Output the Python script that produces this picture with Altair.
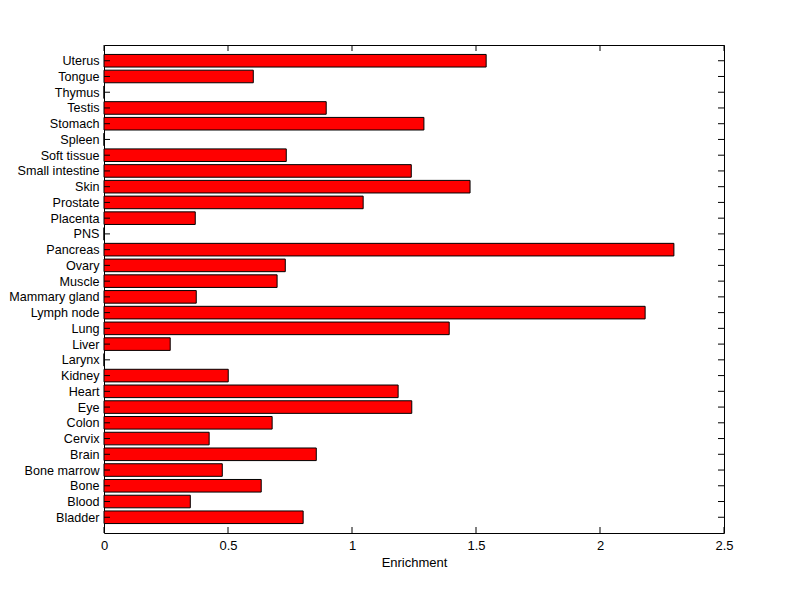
import altair as alt
import pandas as pd

tissues = ["Bladder", "Blood", "Bone", "Bone marrow", "Brain", "Cervix", "Colon", "Eye",
           "Heart", "Kidney", "Larynx", "Liver", "Lung", "Lymph node", "Mammary gland",
           "Muscle", "Ovary", "Pancreas", "PNS", "Placenta", "Prostate", "Skin",
           "Small intestine", "Soft tissue", "Spleen", "Stomach", "Testis", "Thymus",
           "Tongue", "Uterus"]
enrichment = [0.803, 0.348, 0.634, 0.477, 0.856, 0.424, 0.678, 1.241,
              1.186, 0.501, 0.0, 0.267, 1.392, 2.182, 0.372,
              0.698, 0.731, 2.298, 0.0, 0.368, 1.045, 1.476,
              1.239, 0.735, 0.0, 1.290, 0.896, 0.0,
              0.602, 1.541]
x_ticks = [0, 0.5, 1, 1.5, 2, 2.5]

W, H = 620, 488
FONT = "Liberation Sans"

df = pd.DataFrame({"tissue": tissues, "value": enrichment})
df["pos"] = range(1, len(tissues) + 1)
ticks_x = pd.DataFrame({"t": x_ticks})
ticks_y = pd.DataFrame({"pos": list(range(1, len(tissues) + 1))})

label_expr = "[" + ",".join("'" + t + "'" for t in tissues) + "][datum.value - 1]"

xscale = alt.Scale(domain=[0, 2.5], nice=False, zero=True)
yscale = alt.Scale(domain=[0, len(tissues) + 1], nice=False, zero=True)

xaxis = alt.Axis(values=x_ticks, format="~g", title="Enrichment", tickSize=0,
                 labelPadding=6, titlePadding=4, domain=False, grid=False,
                 labelFlush=False, labelFontSize=13)
yaxis = alt.Axis(values=list(range(1, len(tissues) + 1)), labelExpr=label_expr,
                 title=None, tickSize=0, labelPadding=5, domain=False, grid=False,
                 labelOverlap=False, labelFontSize=12.6)

bars = alt.Chart(df).transform_calculate(
    lo="datum.pos - 0.4", hi="datum.pos + 0.4", zero="0"
).mark_rect(color="#ff0000", stroke="black", strokeWidth=1).encode(
    x=alt.X("zero:Q", scale=xscale, axis=xaxis),
    x2="value:Q",
    y=alt.Y("lo:Q", scale=yscale, axis=yaxis),
    y2="hi:Q",
)

top_ticks = alt.Chart(ticks_x).mark_rule(color="black").encode(
    x=alt.X("t:Q", scale=xscale, axis=xaxis), y=alt.value(0), y2=alt.value(6))
bot_ticks = alt.Chart(ticks_x).mark_rule(color="black").encode(
    x=alt.X("t:Q", scale=xscale, axis=xaxis), y=alt.value(H), y2=alt.value(H - 6))
left_ticks = alt.Chart(ticks_y).mark_rule(color="black").encode(
    y=alt.Y("pos:Q", scale=yscale, axis=yaxis), x=alt.value(0), x2=alt.value(6))
right_ticks = alt.Chart(ticks_y).mark_rule(color="black").encode(
    y=alt.Y("pos:Q", scale=yscale, axis=yaxis), x=alt.value(W), x2=alt.value(W - 6))

chart = alt.layer(bars, top_ticks, bot_ticks, left_ticks, right_ticks).properties(
    width=W, height=H,
    autosize=alt.AutoSizeParams(type="none"),
    padding={"left": 96, "top": 37, "right": 60, "bottom": 60},
    background="white",
).configure_view(stroke="black", strokeWidth=1).configure_axis(
    labelFont=FONT, titleFont=FONT, titleFontSize=13,
    labelColor="black", titleColor="black", titleFontWeight="normal",
)

chart.save("out.html", embed_options={"renderer": "svg", "actions": False})
